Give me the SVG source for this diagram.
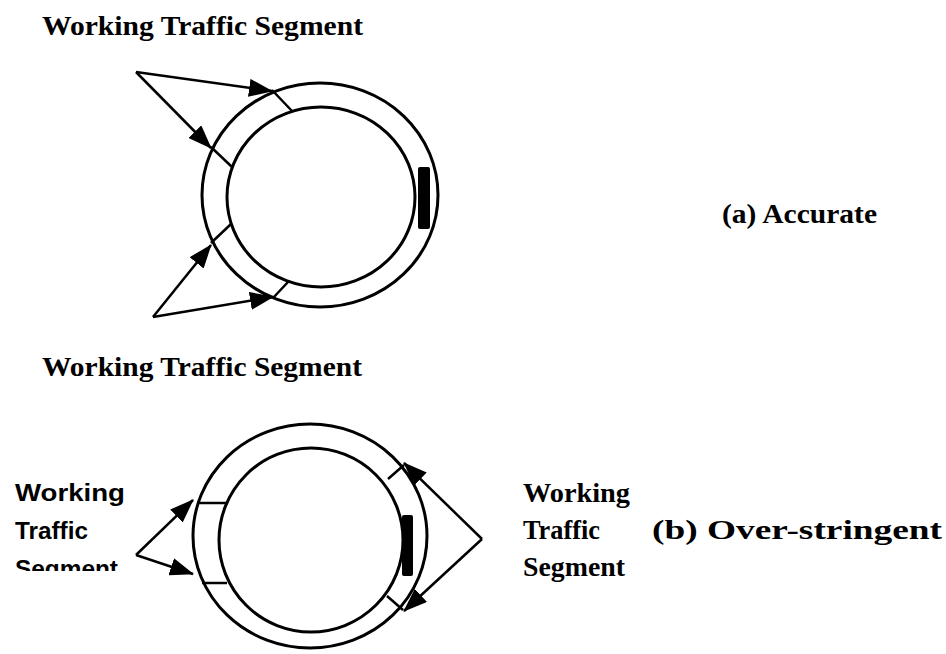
<svg xmlns="http://www.w3.org/2000/svg" width="946" height="654" viewBox="0 0 946 654">
  <style>
    .ring { fill: none; stroke: #000; stroke-width: 3; }
    .seg { fill: none; stroke: #000; stroke-width: 2.5; }
    .bar { fill: #000; }
    .arrow { fill: none; stroke: #000; stroke-width: 2.5; marker-end: url(#head); }
    .serif { font-family: "Liberation Serif", "Times New Roman", serif; font-weight: bold; font-size: 27px; fill: #000; }
    .title { font-size: 28px; }
    .sans { font-family: "Liberation Sans", Arial, sans-serif; font-weight: bold; font-size: 24px; fill: #000; }
  </style>
  <defs>
    <marker id="head" viewBox="0 0 24 18" refX="23" refY="9" markerWidth="24" markerHeight="18" markerUnits="userSpaceOnUse" orient="auto">
      <path d="M0,0 L24,9 L0,18 z" fill="#000"/>
    </marker>
    <clipPath id="cut">
      <rect x="0" y="540" width="160" height="31"/>
    </clipPath>
  </defs>
  <rect width="946" height="654" fill="#fff"/>

  <!-- (a) ring with four segment boundaries and the monitoring bar -->
  <g id="ring-a">
    <ellipse class="ring" cx="320" cy="195" rx="118" ry="112"/>
    <ellipse class="ring" cx="321" cy="197" rx="94" ry="90"/>
    <line class="seg" x1="272" y1="90" x2="292" y2="111"/>
    <line class="seg" x1="211" y1="147" x2="232" y2="167"/>
    <line class="seg" x1="211" y1="243" x2="231" y2="224"/>
    <line class="seg" x1="273" y1="298" x2="288" y2="282"/>
    <rect class="bar" x="418" y="167" width="12" height="62" rx="2"/>
  </g>

  <!-- (b) ring -->
  <g id="ring-b">
    <ellipse class="ring" cx="310" cy="536" rx="117" ry="112"/>
    <ellipse class="ring" cx="311" cy="540" rx="92" ry="92"/>
    <line class="seg" x1="197" y1="503" x2="228" y2="503"/>
    <line class="seg" x1="202" y1="583" x2="227" y2="583"/>
    <line class="seg" x1="404" y1="465" x2="388" y2="479"/>
    <line class="seg" x1="403" y1="610" x2="387" y2="596"/>
    <rect class="bar" x="402" y="515" width="11" height="61" rx="2"/>
  </g>

  <!-- labels -->
  <g id="label-a-top">
    <text class="serif title" x="42" y="35" textLength="321" lengthAdjust="spacingAndGlyphs">Working Traffic Segment</text>
  </g>
  <g id="label-a-bottom">
    <text class="serif title" x="42" y="376" textLength="320" lengthAdjust="spacingAndGlyphs">Working Traffic Segment</text>
  </g>
  <g id="caption-a">
    <text class="serif" x="722" y="223" textLength="155" lengthAdjust="spacingAndGlyphs">(a) Accurate</text>
  </g>
  <g id="caption-b">
    <text class="serif" x="652" y="539" textLength="290" lengthAdjust="spacingAndGlyphs">(b) Over-stringent</text>
  </g>
  <g id="label-b-right">
    <text class="serif" x="523" y="502" textLength="107" lengthAdjust="spacingAndGlyphs">Working</text>
    <text class="serif" x="523" y="539" textLength="77" lengthAdjust="spacingAndGlyphs">Traffic</text>
    <text class="serif" x="523" y="576" textLength="102" lengthAdjust="spacingAndGlyphs">Segment</text>
  </g>
  <g id="label-b-left">
    <text class="sans" x="15" y="501" textLength="110" lengthAdjust="spacingAndGlyphs">Working</text>
    <text class="sans" x="15" y="539" textLength="73" lengthAdjust="spacingAndGlyphs">Traffic</text>
    <text class="sans" x="15" y="577" textLength="103" lengthAdjust="spacingAndGlyphs" clip-path="url(#cut)">Segment</text>
  </g>

  <!-- pointers from labels to segment boundaries -->
  <g id="connectors">
    <line class="arrow" x1="136" y1="72" x2="272" y2="91"/>
    <line class="arrow" x1="136" y1="72" x2="211" y2="148"/>
    <line class="arrow" x1="153" y1="317" x2="211" y2="245"/>
    <line class="arrow" x1="153" y1="317" x2="273" y2="297"/>
    <line class="arrow" x1="482" y1="539" x2="404" y2="463"/>
    <line class="arrow" x1="482" y1="539" x2="404" y2="611"/>
    <line class="arrow" x1="136" y1="555" x2="193" y2="500"/>
    <line class="arrow" x1="136" y1="555" x2="193" y2="574"/>
  </g>
</svg>
